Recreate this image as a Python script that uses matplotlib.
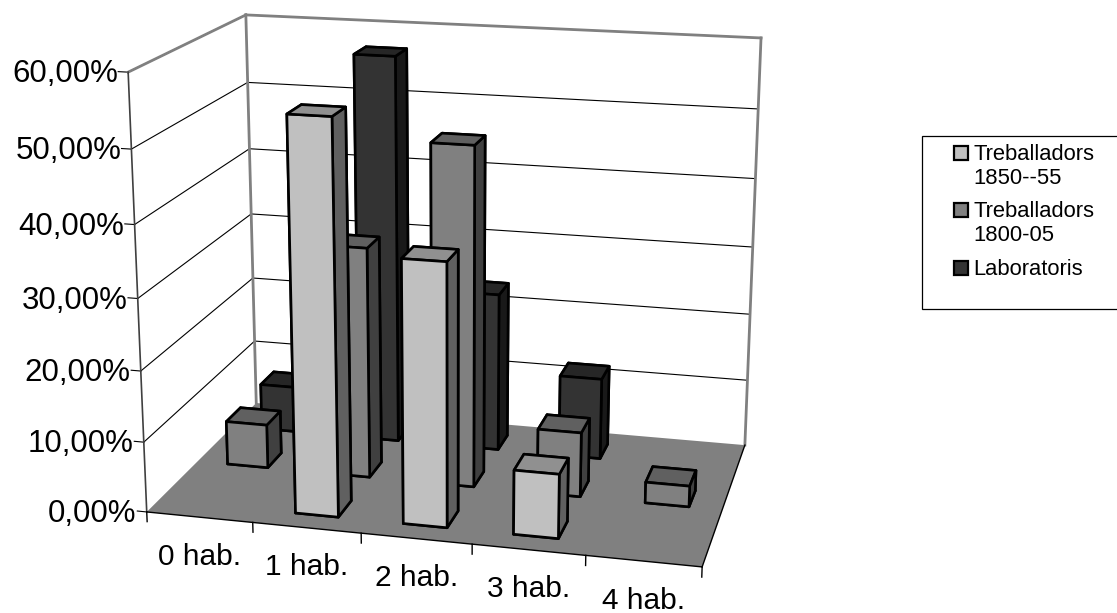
import matplotlib
matplotlib.use("Agg")
import matplotlib.pyplot as plt
import numpy as np
from matplotlib.patches import Rectangle
from mpl_toolkits.mplot3d import proj3d
from mpl_toolkits.mplot3d.art3d import Line3DCollection, Poly3DCollection

plt.rcParams['font.family'] = ['Liberation Sans', 'DejaVu Sans']

categories = ["0 hab.", "1 hab.", "2 hab.", "3 hab.", "4 hab."]
series_names = ["Treballadors\n1850--55", "Treballadors\n1800-05", "Laboratoris"]
light_values = [0, 54.7, 36.6, 9, 0]
mid_values = [6.4, 33.3, 48.5, 9.3, 3]
dark_values = [6.9, 57, 23.4, 12, 0]
yticks = [0, 10, 20, 30, 40, 50, 60]
ytick_labels = ["0,00%", "10,00%", "20,00%", "30,00%", "40,00%", "50,00%", "60,00%"]

# front, top, side
light_cols = ("#c0c0c0", "#909090", "#606060")
mid_cols = ("#808080", "#606060", "#404040")
dark_cols = ("#333333", "#262626", "#191919")

W, H = 1117, 613

# camera fitted to the corners of the chart box (world -> pixels)
world = [(0, 0, 0), (0, 0, 60), (0, 3, 0), (0, 3, 60), (5, 3, 60), (5, 3, 0), (5, 0, 0)]
pixel = [(147, 512), (128, 72), (256, 403), (246, 15), (761, 38), (745, 445), (702, 567)]
A = []
for (x, y, z), (u, v) in zip(world, pixel):
    A.append([x, y, z, 1, 0, 0, 0, 0, -u * x, -u * y, -u * z, -u])
    A.append([0, 0, 0, 0, x, y, z, 1, -v * x, -v * y, -v * z, -v])
P = np.linalg.svd(np.array(A, float))[2][-1].reshape(3, 4)
if P[2, 3] < 0:
    P = -P
M = np.array([P[0], P[1], [-0.1, 1, -0.01, 0], P[2]])

fig = plt.figure(figsize=(W / 100, H / 100), dpi=100)
ax = fig.add_axes([0, 0, 1, 1], projection='3d', computed_zorder=False)
ax.get_proj = lambda: M
ax.apply_aspect = lambda position=None: None
ax.viewLim.intervalx = (0, W)
ax.viewLim.intervaly = (H, 0)
ax.set_xticks([])
ax.set_yticks([])
ax.set_zticks([])
ax.set_axis_off()

# flat pixel axes on top for the texts and the legend
lax = fig.add_axes([0, 0, 1, 1], zorder=5)
lax.set_xlim(0, W)
lax.set_ylim(H, 0)
lax.axis('off')


def add_lines(segments, color, lw, zorder):
    ax.add_collection3d(Line3DCollection(segments, colors=color, linewidths=lw,
                                         zorder=zorder, capstyle='projecting'))


# walls and floor
ax.add_collection3d(Poly3DCollection([[(0, 0, 0), (0, 3, 0), (5, 3, 0), (5, 0, 0)]],
                                     facecolor="#808080", edgecolor="none", zorder=1))
grid = []
for z, label in zip(yticks, ytick_labels):
    grid.append([(-0.09, 0, z), (0, 0, z)])
    if z > 0:
        grid.append([(0, 0, z), (0, 3, z)])
        grid.append([(0, 3, z), (5, 3, z)])
    px, py, _ = proj3d.proj_transform(0, 0, z, M)
    lax.text(px - 10, py + 2, label, ha='right', va='center', fontsize=22.5)
add_lines(grid, "black", 0.8, 2)
add_lines([[(0, 0, 60), (0, 3, 60)], [(0, 3, 60), (5, 3, 60)], [(0, 3, 0), (0, 3, 60)],
           [(5, 3, 0), (5, 3, 60)]], "#808080", 2, 3)
add_lines([[(0, 0, 0), (0, 0, 60)]], "#404040", 1.2, 3)
add_lines([[(0, 0, 0), (5, 0, 0)], [(5, 0, 0), (5, 3, 0)]] +
          [[(i, 0, 0), (i, 0, -1.4)] for i in range(6)], "black", 1, 3)
for i, c in enumerate(categories):
    px, py, _ = proj3d.proj_transform(i + 0.5, 0, 0, M)
    lax.text(px, py + 39.5, c, ha='center', va='center', fontsize=21.5)

# bars, back row first
bar_w = 0.40
bar_d = 0.40
order = 10
rows = [(2.5, dark_values, dark_cols), (1.5, mid_values, mid_cols), (0.5, light_values, light_cols)]
for yc, values, cols in rows:
    for i in range(len(categories) - 1, -1, -1):
        if values[i] == 0:
            continue
        front, top, side = cols
        ax.bar3d(i + 0.5 - bar_w / 2, yc - bar_d / 2, 0, bar_w, bar_d, values[i],
                 color=[top, top, front, front, side, side], shade=False,
                 edgecolor="black", linewidth=1.9, zorder=order)
        order += 1

# legend
lax.add_patch(Rectangle((921.5, 136), 220, 173, facecolor="white", edgecolor="black", lw=0.9))
for yl, name, cols in zip([153, 210, 268], series_names, [light_cols, mid_cols, dark_cols]):
    lax.add_patch(Rectangle((954, yl - 7), 14, 14, facecolor=cols[0], edgecolor="black", lw=1.6))
    lax.text(973, yl - 9, name, ha='left', va='top', fontsize=15.8, linespacing=1.2)

fig.savefig("out.png", dpi=100)
